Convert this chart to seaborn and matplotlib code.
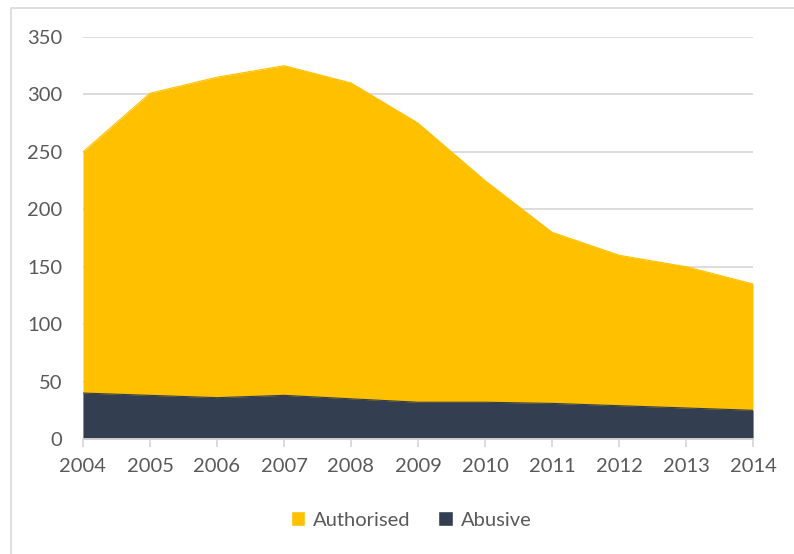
import matplotlib
matplotlib.use("Agg")
import matplotlib.pyplot as plt
from matplotlib.patches import Patch, Rectangle
import seaborn as sns
import pandas as pd

years = [2004, 2005, 2006, 2007, 2008, 2009, 2010, 2011, 2012, 2013, 2014]
authorised = [250, 301, 315, 325, 310, 275, 225, 180, 160, 150, 135]
abusive = [40, 38, 36, 38, 35, 32, 32, 31, 29, 27, 25]
y_ticks = [0, 50, 100, 150, 200, 250, 300, 350]

YELLOW = "#FFC000"
NAVY = "#333F50"
TEXT = "#595959"
GRID = "#D9D9D9"

sns.set_theme(style="white")
plt.rcParams["font.family"] = ["Lato", "DejaVu Sans"]

df = pd.DataFrame({"year": years, "Authorised": authorised, "Abusive": abusive})

fig = plt.figure(figsize=(7.94, 5.54), dpi=100)
W, H = 794, 554
ax = fig.add_axes([83 / W, 1 - 439 / H, (753 - 83) / W, (439 - 37) / H])

# chart frame
fig.patches.append(Rectangle((11 / W, -0.05), 1.2, 1 - 8 / H + 0.05,
                             transform=fig.transFigure, fill=False,
                             edgecolor=GRID, linewidth=1.2, zorder=0))

ax.fill_between(df["year"], 0, df["Authorised"], color=YELLOW, linewidth=0, zorder=2)
ax.fill_between(df["year"], 0, df["Abusive"], color=NAVY, linewidth=0, zorder=3)
sns.lineplot(data=df, x="year", y="Authorised", color=YELLOW, linewidth=0.8, ax=ax, zorder=2)
sns.lineplot(data=df, x="year", y="Abusive", color=NAVY, linewidth=0.8, ax=ax, zorder=3)

ax.set_xlim(years[0], years[-1])
ax.set_ylim(0, 350)
ax.set_xticks(years)
ax.set_yticks(y_ticks)
ax.set_xlabel("")
ax.set_ylabel("")
ax.grid(axis="y", color=GRID, linewidth=1.3, zorder=0)
ax.set_axisbelow(True)

for s in ["top", "right", "left"]:
    ax.spines[s].set_visible(False)
ax.spines["bottom"].set_color(GRID)
ax.spines["bottom"].set_linewidth(1.3)
ax.spines["bottom"].set_zorder(4)

ax.tick_params(axis="x", bottom=True, length=6, width=1.3, color=GRID,
               labelsize=14.5, labelcolor=TEXT, pad=8)
ax.tick_params(axis="y", left=False, labelsize=14.5, labelcolor=TEXT, pad=9)

handles = [Patch(facecolor=YELLOW, label="Authorised"),
           Patch(facecolor=NAVY, label="Abusive")]
fig.legend(handles=handles, loc="center", bbox_to_anchor=(411 / W, 1 - 520 / H),
           ncol=2, frameon=False, fontsize=14.5, labelcolor=TEXT,
           handlelength=0.7, handleheight=0.7, handletextpad=0.4, columnspacing=1.4)

fig.savefig("out.png", dpi=100, facecolor="white")
